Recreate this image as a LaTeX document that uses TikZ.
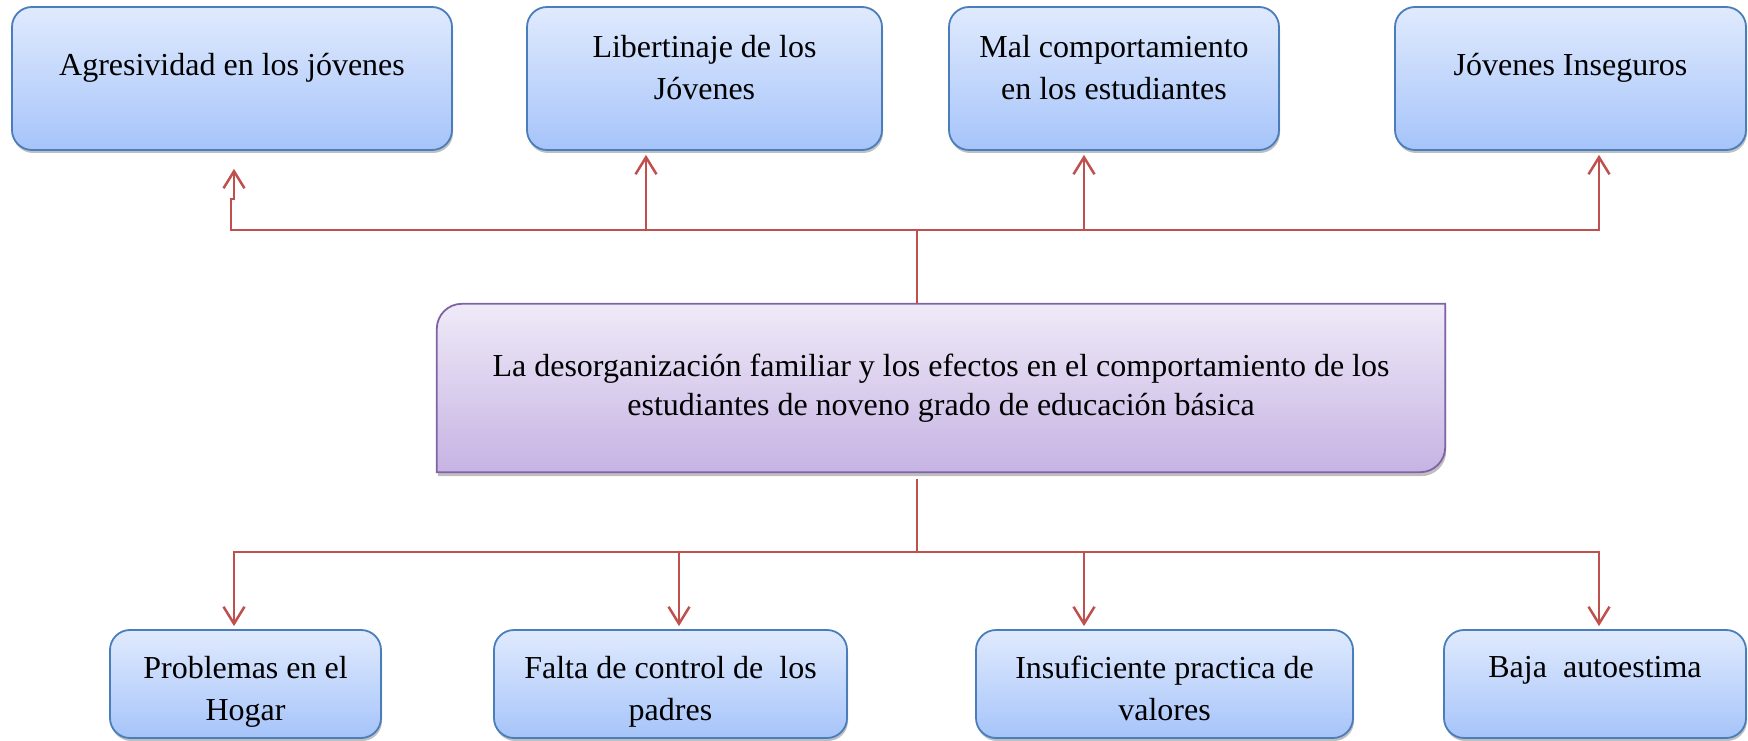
\documentclass[tikz,border=0pt]{standalone}
\usepackage{fontspec}
\setmainfont{Liberation Serif}
\usetikzlibrary{arrows.meta,shadows,backgrounds,calc}
\definecolor{boxtop}{RGB}{224,234,253}
\definecolor{boxbot}{RGB}{166,196,250}
\definecolor{boxline}{RGB}{74,126,187}
\definecolor{centop}{RGB}{239,234,248}
\definecolor{cenbot}{RGB}{198,179,227}
\definecolor{cenline}{RGB}{126,100,164}
\definecolor{linkred}{RGB}{192,80,77}

\begin{document}
\begin{tikzpicture}[x=1pt, y=1pt,
    tbox/.style={draw=boxline, line width=1.8pt, rounded corners=20pt, top color=boxtop, bottom color=boxbot,
        drop shadow={shadow xshift=1pt, shadow yshift=-3pt, fill=black!50, opacity=0.5},
        inner sep=0pt, align=center, font=\fontsize{32}{42}\selectfont},
    upbox/.style={tbox, minimum height=143pt},
    lowbox/.style={tbox, minimum height=108pt},
    cenbox/.style={draw=cenline, line width=1.8pt, top color=centop, bottom color=cenbot,
        drop shadow={shadow xshift=1pt, shadow yshift=-4pt, fill=black!50, opacity=0.5}},
    link/.style={draw=linkred, line width=2.5pt},
    arr/.style={link, -{Straight Barb[length=17pt, width=21pt]}}]
    \useasboundingbox (0,0) rectangle (1748,740);

    \node[upbox, minimum width=440pt, text height=69pt, text depth=74pt] (agr) at (232,661.5) {Agresividad en los jóvenes};
    \node[upbox, minimum width=355pt, text height=93pt, text depth=50pt] (lib) at (704.5,661.5) {Libertinaje de los\\Jóvenes};
    \node[upbox, minimum width=330pt, text height=93pt, text depth=50pt] (mal) at (1114,661.5) {Mal comportamiento\\en los estudiantes};
    \node[upbox, minimum width=351pt, text height=69pt, text depth=74pt] (jov) at (1570.5,661.5) {Jóvenes Inseguros};

    \node[minimum width=1008pt, minimum height=168pt, inner sep=0pt, align=center,
        font=\fontsize{32}{39}\selectfont] (cen) at (941,352)
        {La desorganización familiar y los efectos en el comportamiento de los\\estudiantes de noveno grado de educación básica};
    \begin{scope}[on background layer]
        \path[cenbox] (cen.south west) -- ([yshift=-25pt]cen.north west) arc[start angle=180, end angle=90, radius=25pt]
            -- (cen.north east) -- ([yshift=25pt]cen.south east) arc[start angle=0, end angle=-90, radius=25pt] -- cycle;
    \end{scope}

    \node[lowbox, minimum width=271pt, text height=90pt, text depth=18pt] (prob) at (245.5,56) {Problemas en el\\Hogar};
    \node[lowbox, minimum width=353pt, text height=90pt, text depth=18pt] (falt) at (670.5,56) {Falta de control de~ los\\padres};
    \node[lowbox, minimum width=377pt, text height=90pt, text depth=18pt] (insu) at (1164.5,56) {Insuficiente practica de\\valores};
    \node[lowbox, minimum width=302pt, text height=47pt, text depth=61pt] (baja) at (1595,56) {Baja~ autoestima};

    \coordinate (upj) at (917,510);
    \coordinate (dnj) at (917,188);
    \draw[link] ([xshift=-24pt]cen.north) -- (upj);
    \draw[link] ([xshift=-24pt, yshift=-7pt]cen.south) -- (dnj);

    \draw[arr] (upj) -| ++(-686,31) -- ++(3,0) -- ([xshift=2pt, yshift=-18pt]agr.south);
    \draw[arr] (upj) -| ([xshift=-58.5pt, yshift=-4pt]lib.south);
    \draw[arr] (upj) -| ([xshift=-30pt, yshift=-4pt]mal.south);
    \draw[arr] (upj) -| ([xshift=28.5pt, yshift=-4pt]jov.south);

    \draw[arr] (dnj) -| ([xshift=-11.5pt, yshift=3pt]prob.north);
    \draw[arr] (dnj) -| ([xshift=8.5pt, yshift=3pt]falt.north);
    \draw[arr] (dnj) -| ([xshift=-80.5pt, yshift=3pt]insu.north);
    \draw[arr] (dnj) -| ([xshift=4pt, yshift=3pt]baja.north);
\end{tikzpicture}
\end{document}
